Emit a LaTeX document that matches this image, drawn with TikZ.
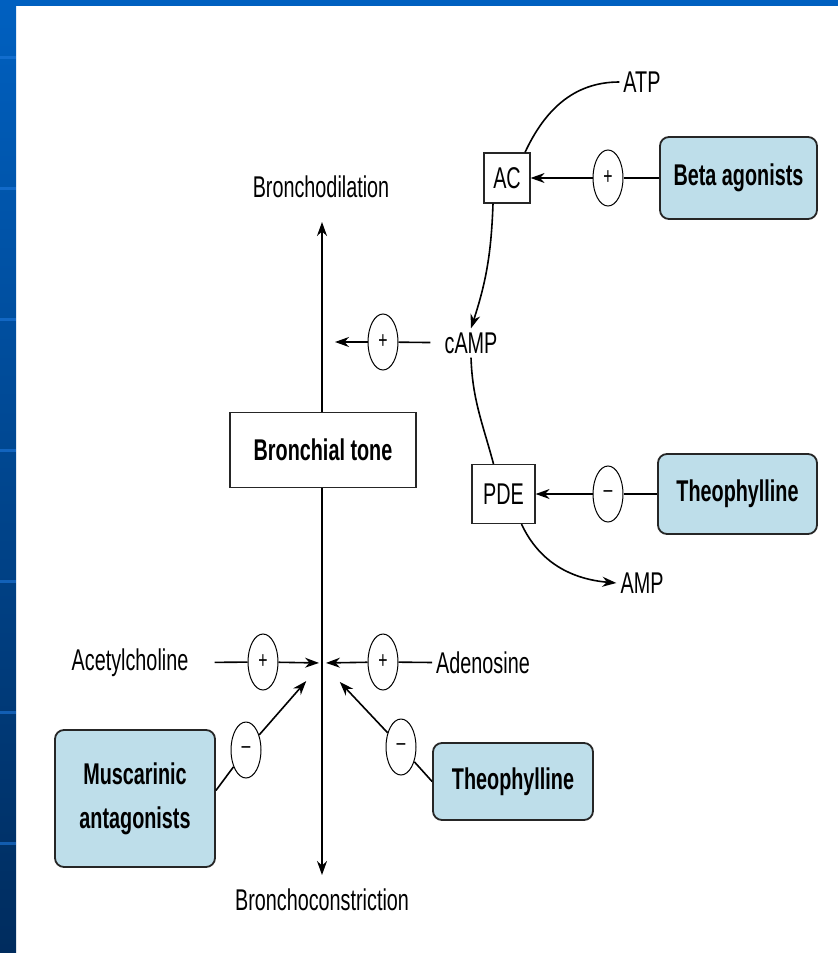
\documentclass[tikz,border=0pt]{standalone}
\usepackage{fontspec}
\setmainfont{Liberation Sans}[FakeStretch=0.66]
\usetikzlibrary{arrows.meta,shapes.geometric}
\definecolor{slideblue}{RGB}{0,96,192}
\definecolor{slidedark}{RGB}{0,44,94}
\definecolor{slideline}{RGB}{30,120,220}
\definecolor{drugfill}{RGB}{190,222,234}
\tikzset{
  lbl/.style={font=\fontsize{30}{34}\selectfont, inner sep=4pt},
  enzbox/.style={draw=black!85, line width=1.2pt, fill=white, font=\fontsize{30}{34}\selectfont},
  drugbox/.style={draw=black!85, line width=1.8pt, fill=drugfill, rounded corners=9pt,
    font=\fontsize{30}{34}\selectfont\bfseries, align=center},
  signcirc/.style={ellipse, draw, line width=1pt, fill=white, minimum width=30pt,
    minimum height=56pt, inner sep=0pt, font=\fontsize{24}{24}\selectfont},
  arr/.style={line width=1.6pt, -{Stealth[length=14pt,width=10pt]}},
  biarr/.style={line width=1.8pt, {Stealth[length=14pt,width=10pt]}-{Stealth[length=14pt,width=10pt]}},
  link/.style={line width=1.6pt}
}
\begin{document}
\begin{tikzpicture}[x=1pt,y=1pt]
    \useasboundingbox (0,0) rectangle (838,-953);
    \fill[white] (0,0) rectangle (838,-953);
    \shade[top color=slideblue,bottom color=slidedark] (0,0) rectangle (16,-953);
    \fill[slideblue] (0,0) rectangle (838,-6);
    \foreach \y in {56,187,318,449,580,711,842}
      \fill[slideline,opacity=.6] (0,-\y) rectangle (16,-\y-3);
    \coordinate (up) at (322,-222);
    \coordinate (down) at (322,-875);
    \coordinate (hub) at (322,-663);
    \draw[biarr] (up) -- (down);
    \path (642,-82) node[lbl] (atp) {ATP};
    \path (507,-178) node[enzbox, minimum width=46pt, minimum height=50pt] (ac) {AC};
    \path (608,-178) node[signcirc] (pb) {+};
    \path (738.5,-178) node[drugbox, minimum width=157pt, minimum height=82pt] (beta) {Beta agonists};
    \path (321,-187) node[lbl] (dil) {Bronchodilation};
    \path (471,-343) node[lbl] (camp) {cAMP};
    \path (383,-342) node[signcirc] (pc) {+};
    \path (323,-450) node[enzbox, minimum width=186pt, minimum height=75pt, font=\fontsize{30}{34}\selectfont\bfseries] (tone) {Bronchial tone};
    \path (503.5,-494) node[enzbox, minimum width=63pt, minimum height=59pt] (pde) {PDE};
    \path (608,-494) node[signcirc] (mt) {–};
    \path (737.5,-494) node[drugbox, minimum width=159pt, minimum height=80pt] (theoa) {Theophylline};
    \path (642,-583) node[lbl] (amp) {AMP};
    \path (130,-663) node[lbl] (ach) {Acetylcholine};
    \path (263,-662) node[signcirc] (pa) {+};
    \path (483,-663) node[lbl] (ado) {Adenosine};
    \path (383,-662) node[signcirc] (pd) {+};
    \path (135,-798.5) node[drugbox, minimum width=160pt, minimum height=137pt, font=\fontsize{30}{44}\selectfont\bfseries] (musc) {Muscarinic\\antagonists};
    \path (246,-750) node[signcirc] (mm) {–};
    \path (513,-781.5) node[drugbox, minimum width=160pt, minimum height=77pt] (theob) {Theophylline};
    \path (401,-747) node[signcirc] (md) {–};
    \path (322,-900) node[lbl] (con) {Bronchoconstriction};
    \draw[link] ([xshift=18pt]ac.north) to[out=65,in=180] (atp.west);
    \draw[link] (beta) -- (pb);
    \draw[arr] (pb) -- (ac);
    \draw[arr] ([xshift=-14pt]ac.south) to[bend left=8] (camp.north);
    \draw[link, shorten <=10pt] (camp) -- (pc);
    \draw[arr, shorten >=13pt] (pc) -- (pc -| up);
    \draw[link] (camp.south) to[out=-88,in=105] ([xshift=-10pt]pde.north);
    \draw[link] (theoa) -- (mt);
    \draw[arr] (mt) -- (pde);
    \draw[arr] ([xshift=18pt]pde.south) to[out=-65,in=175] (amp.west);
    \draw[link, shorten <=22pt] (ach) -- (pa);
    \draw[arr, shorten >=3pt] (pa) -- (hub);
    \draw[link] (ado) -- (pd);
    \draw[arr, shorten >=4pt] (pd) -- (hub);
    \draw[link] ([yshift=8pt]musc.east) -- (mm);
    \draw[arr, shorten >=24pt] (mm) -- (hub);
    \draw[link] (theob.west) -- (md);
    \draw[arr, shorten >=26pt] (md) -- (hub);
\end{tikzpicture}
\end{document}
